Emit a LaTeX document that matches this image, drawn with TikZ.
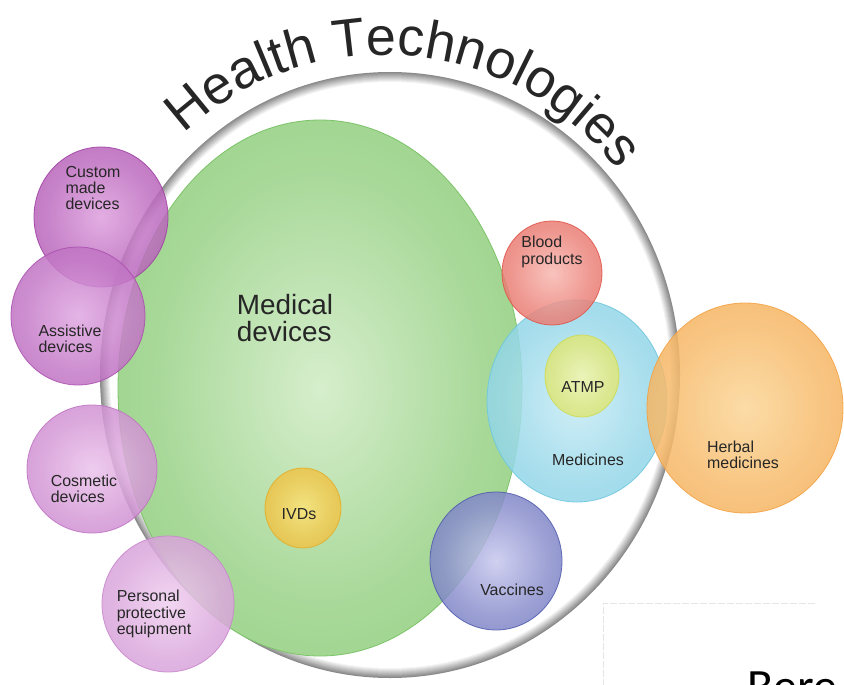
\documentclass[tikz,border=0pt]{standalone}
\usepackage{fontspec}
\setmainfont{Liberation Sans}
\newfontfamily\slidefont{Carlito}
\usetikzlibrary{decorations.text}

% light centre / dark rim for every bubble
\definecolor{custL}{RGB}{222,160,222}  \definecolor{custD}{RGB}{158,60,162}
\definecolor{assiL}{RGB}{224,168,226}  \definecolor{assiD}{RGB}{170,78,174}
\definecolor{cosmL}{RGB}{236,196,236}  \definecolor{cosmD}{RGB}{190,112,194}
\definecolor{ppeL}{RGB}{240,208,240}   \definecolor{ppeD}{RGB}{200,132,204}
\definecolor{greenL}{RGB}{214,238,204} \definecolor{greenD}{RGB}{124,196,104}
\definecolor{bloodL}{RGB}{248,185,178} \definecolor{bloodD}{RGB}{224,82,72}
\definecolor{mediL}{RGB}{200,236,246}  \definecolor{mediD}{RGB}{108,198,222}
\definecolor{atmpL}{RGB}{242,246,175}  \definecolor{atmpD}{RGB}{206,218,80}
\definecolor{herbL}{RGB}{252,214,152}  \definecolor{herbD}{RGB}{242,160,64}
\definecolor{ivdL}{RGB}{252,228,120}   \definecolor{ivdD}{RGB}{228,172,38}
\definecolor{vaccL}{RGB}{200,200,238}  \definecolor{vaccD}{RGB}{78,88,172}

\newcommand{\orbshade}[3]{\pgfdeclareradialshading{#1}{\pgfpoint{0bp}{0bp}}%
  {color(0bp)=(#2); color(20bp)=(#2!50!#3); color(50bp)=(#3)}}
\orbshade{orbcust}{custL}{custD}
\orbshade{orbassi}{assiL}{assiD}
\orbshade{orbcosm}{cosmL}{cosmD}
\orbshade{orbppe}{ppeL}{ppeD}
\orbshade{orbgreen}{greenL}{greenD}
\orbshade{orbblood}{bloodL}{bloodD}
\orbshade{orbmedi}{mediL}{mediD}
\orbshade{orbatmp}{atmpL}{atmpD}
\orbshade{orbherb}{herbL}{herbD}
\orbshade{orbivd}{ivdL}{ivdD}
\orbshade{orbvacc}{vaccL}{vaccD}

\newcommand{\titlesize}{\fontsize{54}{54}\selectfont}
\tikzstyle{bubble} = [opacity=0.85, line width=0.8bp]
\tikzstyle{bubbletext} = [align=left, inner sep=0pt, text=black!85, font=\fontsize{16}{16.5}\selectfont]
\tikzstyle{boxline} = [black!10, line width=0.8bp, dash pattern=on 7bp off 2bp]

\begin{document}
\begin{tikzpicture}[x=1bp, y=1bp]
    \useasboundingbox (0,0) rectangle (844,-685);
    \clip (0,0) rectangle (844,-685);
    \fill[white] (0,0) rectangle (844,-685);

    % the plate holding everything, rim shaded from grey to white
    \coordinate (hub) at (390,-375);
    \foreach \i [evaluate=\i as \g using 46-4.6*\i] in {0,...,10}
        \fill[black!\g] (hub) ellipse [x radius=290-\i, y radius=303-\i];

    % bubbles
    \shadedraw[bubble, shading=orbgreen, draw=greenD, opacity=1] (320,-388) ellipse [x radius=202, y radius=268];
    \shadedraw[bubble, shading=orbivd, draw=ivdD] (303,-508) ellipse [x radius=38, y radius=40];
    \shadedraw[bubble, shading=orbcust, draw=custD] (101,-217) ellipse [x radius=67, y radius=70];
    \shadedraw[bubble, shading=orbassi, draw=assiD] (78,-316) ellipse [x radius=67, y radius=69];
    \shadedraw[bubble, shading=orbcosm, draw=cosmD] (92,-469) ellipse [x radius=65, y radius=64];
    \shadedraw[bubble, shading=orbppe, draw=ppeD] (168,-604) ellipse [x radius=66, y radius=68];
    \shadedraw[bubble, shading=orbmedi, draw=mediD] (577,-401) ellipse [x radius=90, y radius=101];
    \shadedraw[bubble, shading=orbatmp, draw=atmpD] (582,-376) ellipse [x radius=37, y radius=41];
    \shadedraw[bubble, shading=orbblood, draw=bloodD] (552,-273) ellipse [x radius=50, y radius=52];
    \shadedraw[bubble, shading=orbvacc, draw=vaccD] (496,-561) ellipse [x radius=66, y radius=69];
    \shadedraw[bubble, shading=orbherb, draw=herbD] (745,-408) ellipse [x radius=98, y radius=105];

    % labels
    \node[bubbletext] (custtxt) at (93,-188) {Custom\\made\\devices};
    \node[bubbletext] (assitxt) at (70,-339) {Assistive\\devices};
    \node[bubbletext] (cosmtxt) at (84,-489) {Cosmetic\\devices};
    \node[bubbletext] (ppetxt) at (154,-614) {Personal\\protective\\equipment};
    \node[bubbletext, font=\fontsize{28}{27}\selectfont] (meddevtxt) at (285,-318) {Medical\\devices};
    \node[bubbletext] (ivdtxt) at (299,-514) {IVDs};
    \node[bubbletext] (bloodtxt) at (552,-252) {Blood\\products};
    \node[bubbletext] (atmptxt) at (583,-387) {ATMP};
    \node[bubbletext] (meditxt) at (588,-460) {Medicines};
    \node[bubbletext] (herbtxt) at (743,-455) {Herbal\\medicines};
    \node[bubbletext] (vacctxt) at (512,-590) {Vaccines};

    % title bent round the plate
    \coordinate (arcmid) at (384,-349);
    \path[decorate, decoration={text along path, text align=left,
            text color=black!85, text={|\titlesize|Health Technologies}}]
        ([shift={(133:294)}]arcmid) arc[start angle=133, end angle=10, radius=294];

    % text box running off the corner
    \draw[boxline] (815,-603) -| (603,-690);
    \node[anchor=base west, inner sep=0pt, font=\slidefont\fontsize{48}{48}\selectfont] (cut) at (747,-702) {Bere};
\end{tikzpicture}
\end{document}
